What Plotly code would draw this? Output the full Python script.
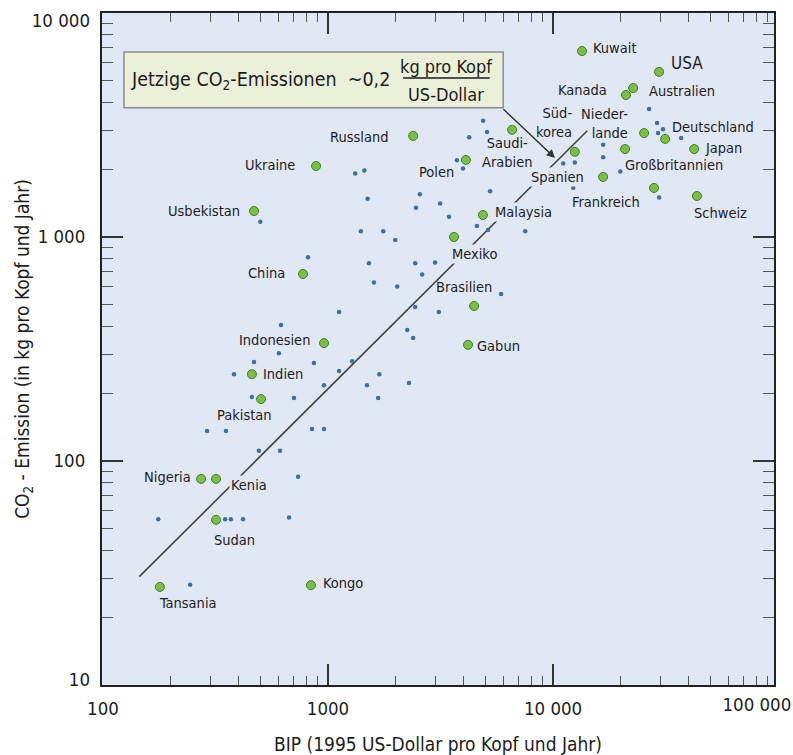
import math
import plotly.graph_objects as go

# ---------------- data ----------------
COUNTRIES = ["Kuwait", "USA", "Kanada", "Australien", "Süd-<br>korea", "Nieder-<br>lande",
             "Deutschland", "Japan", "Großbritannien", "Spanien", "Frankreich", "Schweiz",
             "Saudi-<br>Arabien", "Russland", "Ukraine", "Usbekistan", "Polen", "Malaysia",
             "Mexiko", "Brasilien", "Gabun", "China", "Indonesien", "Indien", "Pakistan",
             "Nigeria", "Kenia", "Sudan", "Tansania", "Kongo"]
COUNTRY_GDP = [13450, 29600, 21100, 22700, 12500, 25400,
               31500, 42400, 20900, 16700, 28100, 43600,
               6580, 2390, 885, 469, 4100, 4880,
               3630, 4460, 4190, 774, 960, 459, 504,
               273, 318, 318, 179, 840]
COUNTRY_CO2 = [6760, 5460, 4305, 4625, 2400, 2910,
               2740, 2470, 2470, 1854, 1656, 1524,
               3010, 2826, 2075, 1306, 2208, 1254,
               1000, 492, 330, 684, 336, 244, 189,
               83.2, 83.2, 54.6, 27.4, 27.9]

OTHER_GDP = [1320, 1450, 1500, 2560, 2460, 3150, 3450, 500, 1400, 1760, 1990,
             4890, 4240, 5090, 3740, 3980, 5250, 4590, 5140, 7520,
             815, 1520, 2440, 2990, 2620, 1600, 2030, 5880, 1120, 2440, 3110,
             618, 2250, 2390, 605, 469, 866, 1280, 382, 1120, 1690,
             960, 1490, 2290, 459, 706, 1670, 290, 352, 849, 960,
             493, 612, 736, 176, 349, 370, 419, 671, 244,
             11100, 12500, 16700, 16700, 12300, 19900, 26700, 29000, 29300, 30800, 37100, 29600]
OTHER_CO2 = [1920, 1980, 1480, 1550, 1350, 1410, 1230, 1170, 1060, 1060, 970,
             3300, 2790, 2940, 2200, 2020, 1600, 1120, 1075, 1060,
             813, 763, 763, 770, 681, 627, 601, 557, 463, 487, 463,
             405, 384, 354, 303, 277, 274, 279, 244, 252, 244,
             218, 218, 223, 193, 191, 191, 136, 136, 139, 139,
             111, 111, 85, 55, 55, 55, 55, 56, 28,
             2130, 2150, 2580, 2270, 1660, 1960, 3730, 3230, 2910, 3030, 2770, 1500]

TREND_GDP = [145, 14200]
TREND_FACTOR = 0.21   # kg CO2 per US-Dollar (~0,2)

X_TICKS = [100, 1000, 10000]
X_TICKTEXT = ["100", "1000", "10 000"]
X_LAST_TICK = [100000]
X_LAST_TICKTEXT = ["100 000"]
Y_TICKS = [100, 1000]
Y_TICKTEXT = ["100", "1 000"]
Y_TOP_TICK = [10000]
Y_TOP_TICKTEXT = ["10 000"]
Y_BOTTOM_TICK = [10]
Y_BOTTOM_TICKTEXT = ["10"]
MINOR = [m * 10 ** e for e in range(1, 5) for m in range(2, 10)]

# ---------------- style ----------------
FONT = "DejaVu Sans Condensed, Liberation Sans Narrow, sans-serif"
TXT = "#1c1c1c"
PLOT_BG = "#e1e8f5"
LABEL_SIZE = 14.5

# label placement per country: (xanchor, xshift, yshift, mask)
LABEL_STYLE = {
    "Kuwait": ("left", 9, 3, False), "USA": ("left", 10, 9, False),
    "Kanada": ("right", -17, 5, False), "Australien": ("left", 14, -3, False),
    "Süd-<br>korea": ("right", -1, 29, False), "Nieder-<br>lande": ("right", -14, 10, False),
    "Deutschland": ("left", 5, 12, False), "Japan": ("left", 9, 1, False),
    "Großbritannien": ("left", -2, -16, False), "Spanien": ("right", -17, 0, True),
    "Frankreich": ("right", -12, -14, False), "Schweiz": ("left", -5, -17, False),
    "Saudi-<br>Arabien": ("center", -5, -23, False), "Russland": ("right", -23, -1, False),
    "Ukraine": ("right", -19, 1, False), "Usbekistan": ("right", -12, 0, False),
    "Polen": ("right", -10, -12, False), "Malaysia": ("left", 10, 3, True),
    "Mexiko": ("left", -4, -17, True), "Brasilien": ("center", -10, 19, False),
    "Gabun": ("left", 7, -1, False), "China": ("right", -16, 1, False),
    "Indonesien": ("right", -12, 3, False), "Indien": ("left", 9, 0, False),
    "Pakistan": ("center", -17, -16, False), "Nigeria": ("right", -8, 2, False),
    "Kenia": ("left", 13, -6, True), "Sudan": ("left", -4, -20, False),
    "Tansania": ("left", -3, -16, False), "Kongo": ("left", 10, 2, False),
}

fig = go.Figure()

fig.add_trace(go.Scatter(
    x=TREND_GDP, y=[TREND_FACTOR * g for g in TREND_GDP], mode="lines",
    line=dict(color="#444444", width=1.6), hoverinfo="skip", showlegend=False))

fig.add_trace(go.Scatter(
    x=OTHER_GDP, y=OTHER_CO2, mode="markers",
    marker=dict(size=4.5, color="#3d6fa0", line=dict(width=0)),
    showlegend=False))

fig.add_trace(go.Scatter(
    x=COUNTRY_GDP, y=COUNTRY_CO2, mode="markers",
    marker=dict(size=9, color="#7cbf45", line=dict(color="#3f7d22", width=1)),
    text=COUNTRIES, showlegend=False))

# helper traces to attach the extra tick-label axes
fig.add_trace(go.Scatter(x=[None], y=[None], xaxis="x2", yaxis="y", showlegend=False, hoverinfo="skip"))
fig.add_trace(go.Scatter(x=[None], y=[None], xaxis="x", yaxis="y2", showlegend=False, hoverinfo="skip"))
fig.add_trace(go.Scatter(x=[None], y=[None], xaxis="x", yaxis="y3", showlegend=False, hoverinfo="skip"))

annotations = []
for name, gx, gy in zip(COUNTRIES, COUNTRY_GDP, COUNTRY_CO2):
    xa, xs, ys, mask = LABEL_STYLE[name]
    annotations.append(dict(
        x=math.log10(gx), y=math.log10(gy), xref="x", yref="y",
        text=name, showarrow=False, xanchor=xa, yanchor="middle",
        xshift=xs, yshift=ys, align="right" if "<br>" in name and xa == "right" else "center",
        font=dict(family=FONT, size=17 if name == "USA" else LABEL_SIZE, color=TXT),
        bgcolor=PLOT_BG if mask else None, borderpad=1))

# annotation box
fig.add_shape(type="rect", xref="x domain", yref="y domain",
              x0=0.0327, x1=0.597, y0=0.859, y1=0.942,
              fillcolor="#ebf0d9", line=dict(color="#8c8c8c", width=1.5), layer="above")
annotations.append(dict(
    xref="x domain", yref="y domain", x=0.0400, y=0.900, xanchor="left", yanchor="middle",
    text="Jetzige CO<sub>2</sub>-Emissionen&nbsp;&nbsp;~0,2", showarrow=False,
    font=dict(family=FONT, size=19.5, color=TXT)))
annotations.append(dict(
    xref="x domain", yref="y domain", x=0.513, y=0.921, xanchor="center", yanchor="middle",
    text="kg pro Kopf", showarrow=False, font=dict(family=FONT, size=18, color=TXT)))
annotations.append(dict(
    xref="x domain", yref="y domain", x=0.512, y=0.879, xanchor="center", yanchor="middle",
    text="US-Dollar", showarrow=False, font=dict(family=FONT, size=18, color=TXT)))
fig.add_shape(type="line", xref="x domain", yref="y domain",
              x0=0.448, x1=0.577, y0=0.9033, y1=0.9033,
              line=dict(color=TXT, width=1.3), layer="above")

# arrow from the box to the trend line
annotations.append(dict(
    x=math.log10(10200), y=math.log10(2255), xref="x", yref="y",
    ax=-53, ay=-50, axref="pixel", ayref="pixel", text="", showarrow=True,
    arrowhead=2, arrowsize=1.1, arrowwidth=1.5, arrowcolor="#333333", standoff=0))

tickfont = dict(family=FONT, size=18.5, color=TXT)
common_axis = dict(type="log", showgrid=False, zeroline=False, automargin=False,
                   ticklabeloverflow="allow")

fig.update_layout(
    template="none",
    width=793, height=755,
    margin=dict(l=102, r=19, t=13, b=70, autoexpand=False),
    paper_bgcolor="white", plot_bgcolor=PLOT_BG,
    showlegend=False,
    annotations=annotations,
    xaxis=dict(**common_axis, range=[1.9956, 4.982],
               tickvals=X_TICKS, ticktext=X_TICKTEXT,
               ticks="inside", ticklen=21, tickwidth=1.5, tickcolor="#333333",
               minor=dict(tickvals=MINOR, ticks="inside", ticklen=9, tickwidth=1.3,
                          tickcolor="#555555", showgrid=False),
               showline=True, linecolor="#222222", linewidth=2, mirror="ticks",
               tickfont=tickfont, ticklabelstandoff=6,
               title=dict(text="BIP (1995 US-Dollar pro Kopf und Jahr)",
                          font=dict(family=FONT, size=19, color=TXT), standoff=22)),
    xaxis2=dict(**common_axis, range=[2, 5.0005], overlaying="x", anchor="y", side="bottom",
                tickvals=X_LAST_TICK, ticktext=X_LAST_TICKTEXT, ticks="",
                showline=False, tickfont=tickfont, ticklabelstandoff=6, ticklabelshift=-17),
    yaxis=dict(**common_axis, range=[1, 4],
               tickvals=Y_TICKS, ticktext=Y_TICKTEXT,
               ticks="inside", ticklen=21, tickwidth=1.5, tickcolor="#333333",
               minor=dict(tickvals=MINOR, ticks="inside", ticklen=11, tickwidth=1.3,
                          tickcolor="#555555", showgrid=False),
               showline=True, linecolor="#222222", linewidth=2, mirror="ticks",
               tickfont=tickfont, ticklabelstandoff=11,
               title=dict(text="CO<sub>2</sub> - Emission (in kg pro Kopf und Jahr)",
                          font=dict(family=FONT, size=19, color=TXT), standoff=3)),
    yaxis2=dict(**common_axis, range=[1, 4.0005], overlaying="y", anchor="x", side="left",
                tickvals=Y_TOP_TICK, ticktext=Y_TOP_TICKTEXT, ticks="", showline=False,
                tickfont=tickfont, ticklabelstandoff=11, ticklabelshift=7),
    yaxis3=dict(**common_axis, range=[1, 4], overlaying="y", anchor="x", side="left",
                tickvals=Y_BOTTOM_TICK, ticktext=Y_BOTTOM_TICKTEXT, ticks="", showline=False,
                tickfont=tickfont, ticklabelstandoff=11, ticklabelshift=-5),
)

fig.write_html("out.html")
